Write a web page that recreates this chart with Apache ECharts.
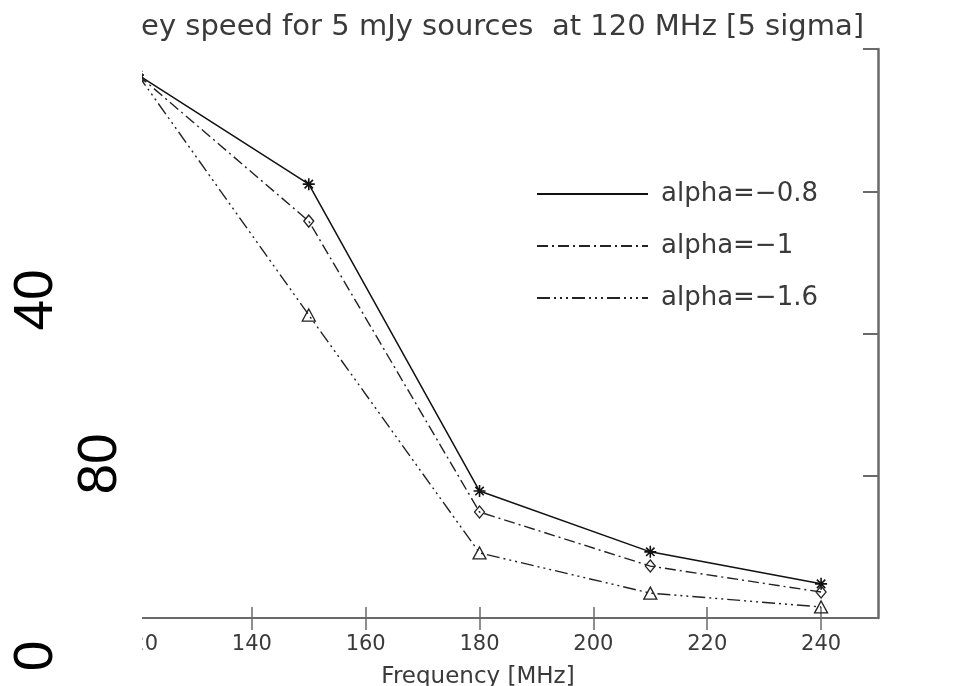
<!DOCTYPE html>
<html>
<head>
<meta charset="utf-8">
<script src="https://cdn.jsdelivr.net/npm/echarts@6/dist/echarts.min.js"></script>
<style>html,body{margin:0;padding:0;background:#fff;}#c{width:970px;height:686px;}</style>
</head>
<body>
<div id="c"></div>
<script>
// ---- data ----
const frequencies = [120, 150, 180, 210, 240];
const alpha08 = [152.7, 122.0, 35.7, 18.6, 9.6];
const alpha10 = [152.7, 111.6, 29.8, 14.6, 7.3];
const alpha16 = [152.7, 85.2, 18.3, 7.0, 3.1];
const seriesNames = ['alpha=\u22120.8', 'alpha=\u22121', 'alpha=\u22121.6'];
const xTicks = [120, 140, 160, 180, 200, 220, 240];
const yTicks = [0, 40, 80, 120, 160];
const sideLabels = ['40', '80', '0'];
const titleText = 'Survey speed for 5 mJy sources  at 120 MHz [5 sigma]';
const xAxisName = 'Frequency [MHz]';

const font = 'DejaVu Sans';
const txt = '#3a3a3a';
const axisCol = '#6a6a6a';

function pairs(vals){ return frequencies.map((f,i)=>[f, vals[i]]); }

const asterisk = 'path://M0,5L10,5M5,0L5,10M1.5,1.5L8.5,8.5M8.5,1.5L1.5,8.5';

const chart = echarts.init(document.getElementById('c'), null, {renderer:'canvas'});
chart.setOption({
  backgroundColor: '#fff',
  animation: false,
  title: {
    text: titleText,
    right: 101, top: 8,
    textStyle: {fontFamily: font, fontSize: 29, fontWeight: 'normal', color: txt}
  },
  legend: {
    orient: 'vertical',
    left: 531, top: 176,
    itemWidth: 111, itemHeight: 14, itemGap: 26,
    itemStyle: {opacity: 0},
    textStyle: {fontFamily: font, fontSize: 26, color: txt, lineHeight: 24, padding: [0,0,0,8]},
    data: seriesNames
  },
  grid: {left: 138, right: 92, top: 49, bottom: 68, containLabel: false, outerBoundsMode: 'none'},
  xAxis: [{
    type: 'value', position: 'bottom', min: 120, max: 250, interval: 20,
    name: xAxisName, nameLocation: 'middle', nameGap: 48,
    nameTextStyle: {fontFamily: font, fontSize: 23, color: txt, padding: [0, 60, 0, 0]},
    axisLine: {show: true, lineStyle: {color: axisCol, width: 1.5}},
    axisTick: {show: true, inside: true, length: 11, customValues: xTicks, lineStyle: {color: axisCol, width: 1.5}},
    axisLabel: {fontFamily: font, fontSize: 21, color: txt, margin: 16, customValues: xTicks},
    splitLine: {show: false}
  }, {
    type: 'value', position: 'top', min: 120, max: 250, interval: 20,
    axisLine: {show: true, lineStyle: {color: axisCol, width: 2}},
    axisTick: {show: true, inside: true, length: 12, customValues: xTicks, lineStyle: {color: axisCol, width: 1.5}},
    axisLabel: {show: false},
    splitLine: {show: false}
  }],
  yAxis: [{
    type: 'value', position: 'left', min: 0, max: 160, interval: 40,
    axisLine: {show: false},
    axisTick: {show: false},
    axisLabel: {show: false},
    splitLine: {show: false}
  }, {
    type: 'value', position: 'right', min: 0, max: 160, interval: 40,
    axisLine: {show: true, lineStyle: {color: axisCol, width: 2.5}},
    axisTick: {show: true, inside: true, length: 15, customValues: yTicks, lineStyle: {color: axisCol, width: 2}},
    axisLabel: {show: false},
    splitLine: {show: false}
  }],
  series: [{
    name: seriesNames[0], type: 'line', data: pairs(alpha08),
    symbol: asterisk, symbolSize: 12,
    lineStyle: {color: '#111', width: 1.5, type: 'solid'},
    itemStyle: {color: 'transparent', borderColor: '#111', borderWidth: 1.6}
  }, {
    name: seriesNames[1], type: 'line', data: pairs(alpha10),
    symbol: 'diamond', symbolSize: [10, 12],
    lineStyle: {color: '#222', width: 1.4, type: [11, 4, 2, 4]},
    itemStyle: {color: 'transparent', borderColor: '#222', borderWidth: 1.3}
  }, {
    name: seriesNames[2], type: 'line', data: pairs(alpha16),
    symbol: 'triangle', symbolSize: [13, 12],
    lineStyle: {color: '#222', width: 1.4, type: [13, 4, 2, 4, 2, 4, 2, 4]},
    itemStyle: {color: 'transparent', borderColor: '#222', borderWidth: 1.3}
  }],
  graphic: [
    {type: 'rect', shape: {x: 0, y: 0, width: 142, height: 686}, style: {fill: '#fff'}, z: 100},
    {type: 'text', x: 37, y: 300, rotation: Math.PI/2, z: 101,
      style: {text: sideLabels[0], font: '55px "Liberation Sans"', fill: '#000', textAlign: 'center', textVerticalAlign: 'middle'}},
    {type: 'text', x: 101, y: 464, rotation: Math.PI/2, z: 101,
      style: {text: sideLabels[1], font: '55px "Liberation Sans"', fill: '#000', textAlign: 'center', textVerticalAlign: 'middle'}},
    {type: 'text', x: 37, y: 656, rotation: Math.PI/2, z: 101,
      style: {text: sideLabels[2], font: '55px "Liberation Sans"', fill: '#000', textAlign: 'center', textVerticalAlign: 'middle'}}
  ]
});
</script>
</body>
</html>
